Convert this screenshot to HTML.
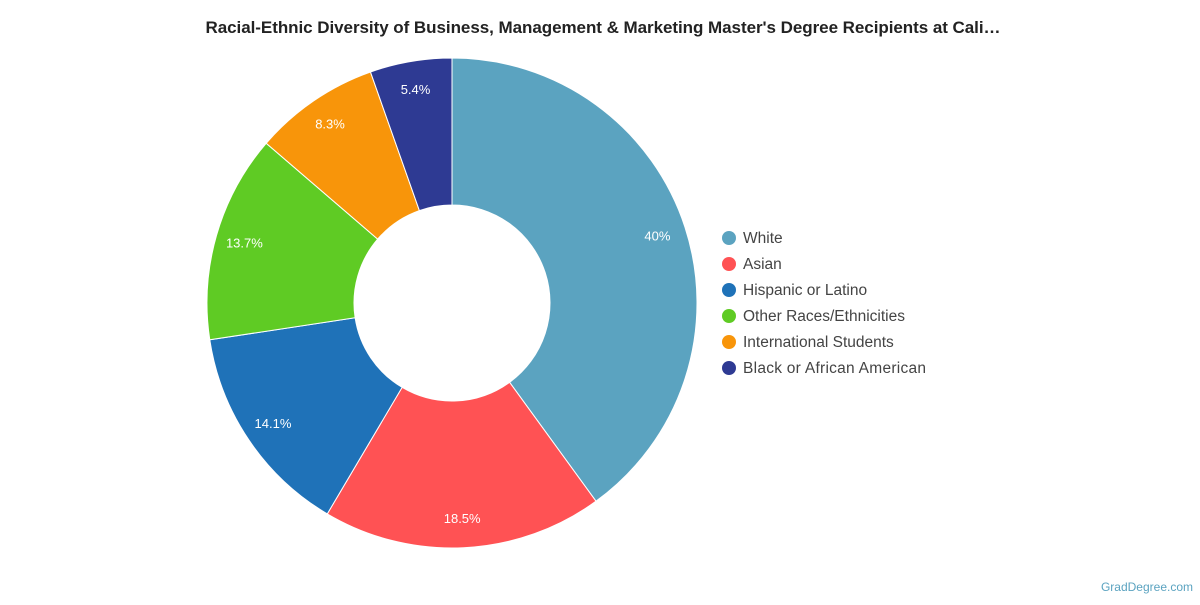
<!DOCTYPE html>
<html><head><meta charset="utf-8"><style>
body{margin:0;background:#fff;width:1200px;height:600px;overflow:hidden;font-family:"Liberation Sans",Arial,sans-serif}
</style></head><body>
<svg id="s" width="1200" height="600" xmlns="http://www.w3.org/2000/svg">
<text x="603" y="33" text-anchor="middle" font-size="17" font-weight="bold" fill="#222" textLength="795">Racial-Ethnic Diversity of Business, Management &amp; Marketing Master's Degree Recipients at Cali…</text>
<g id="pie"></g>
<g font-size="15.5" fill="#444">
<circle cx="729" cy="238" r="7" fill="#5ba3c0"/><text x="743" y="243">White</text>
<circle cx="729" cy="264" r="7" fill="#ff5254"/><text x="743" y="269">Asian</text>
<circle cx="729" cy="290" r="7" fill="#1f72b8"/><text x="743" y="295">Hispanic or Latino</text>
<circle cx="729" cy="316" r="7" fill="#5fcb24"/><text x="743" y="321">Other Races/Ethnicities</text>
<circle cx="729" cy="342" r="7" fill="#f8950a"/><text x="743" y="347">International Students</text>
<circle cx="729" cy="368" r="7" fill="#2e3a93"/><text x="743" y="373" textLength="183">Black or African American</text>
</g>
<text x="1193" y="591" text-anchor="end" font-size="12" fill="#5ba3c0">GradDegree.com</text>
</svg>
<script>
var d=[[40,"#5ba3c0","40%"],[18.5,"#ff5254","18.5%"],[14.1,"#1f72b8","14.1%"],[13.7,"#5fcb24","13.7%"],[8.3,"#f8950a","8.3%"],[5.4,"#2e3a93","5.4%"]];
var cx=452,cy=303,R=245,r=98,a=0,h="";
function p(rad,f){var t=f*2*Math.PI;return [cx+rad*Math.sin(t),cy-rad*Math.cos(t)];}
d.forEach(function(e){var f0=a/100,f1=(a+e[0])/100,l=e[0]>50?1:0;
var A=p(R,f0),B=p(R,f1),C=p(r,f1),D=p(r,f0);
h+='<path d="M'+A+' A'+R+' '+R+' 0 '+l+' 1 '+B+' L'+C+' A'+r+' '+r+' 0 '+l+' 0 '+D+'Z" fill="'+e[1]+'" stroke="#fff" stroke-width="1"/>';
var m=p(216,(a+e[0]/2)/100);
h+='<text x="'+m[0]+'" y="'+(m[1]+4)+'" text-anchor="middle" font-size="13" fill="#fff">'+e[2]+'</text>';
a+=e[0];});
document.getElementById("pie").innerHTML=h;
</script>
</body></html>
